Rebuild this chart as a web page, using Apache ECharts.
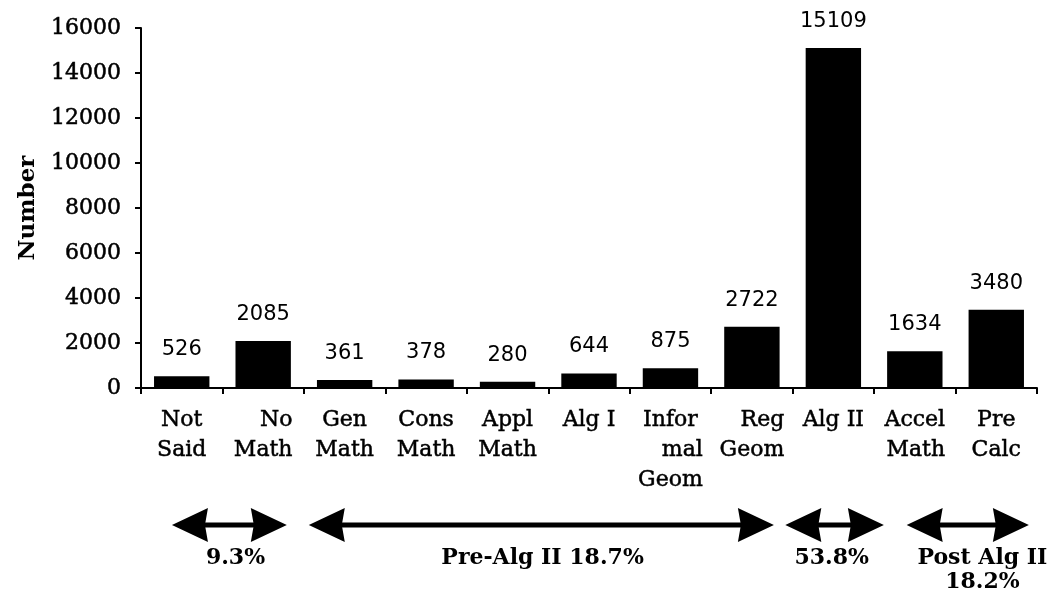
<!DOCTYPE html>
<html>
<head>
<meta charset="utf-8">
<script src="https://cdn.jsdelivr.net/npm/echarts@6/dist/echarts.min.js"></script>
<style>
html,body{margin:0;padding:0;background:#fff;}
#main{width:1058px;height:599px;}
</style>
</head>
<body>
<div id="main"></div>
<script>
//课程类别（换行和原图一样）
var categories = ['Not\nSaid','No\nMath','Gen\nMath','Cons\nMath','Appl\nMath','Alg I','Infor\nmal\nGeom','Reg\nGeom','Alg II','Accel\nMath','Pre\nCalc'];
//每类人数
var counts = [526,2085,361,378,280,644,875,2722,15109,1634,3480];
//分组文字
var groupLabels = ['9.3%','Pre-Alg II 18.7%','53.8%','Post Alg II\n18.2%'];
//分组箭头两端（类别序号）
var groupFrom = [-0.12,1.56,7.41,8.9];
var groupTo = [1.29,7.27,8.62,10.4];
//分组文字的中心（类别序号）
var groupTextAt = [0.66,4.43,7.98,9.83];
//这些类别的标签靠右对齐
var rightAligned = ['No\nMath','Reg\nGeom','Accel\nMath'];

var serif = 'DejaVu Serif';
var myChart = echarts.init(document.getElementById('main'));

function catLabel(v){
	var lines = v.split('\n');
	var tag = rightAligned.indexOf(v) >= 0 ? 'r' : 'c';
	var out = [];
	for(var i=0;i<lines.length;i++){
		//Infor mal 的第二行靠右
		var t = (v.indexOf('Infor')==0 && i==1) ? 'r' : tag;
		out.push('{'+t+'|'+lines[i]+'}');
	}
	return out.join('\n');
}

var labelFont = {fontFamily:serif,fontSize:22,color:'#000',lineHeight:30,textBorderColor:'#000',textBorderWidth:0.5};

var option = {
	animation:false,
	grid:{left:141,right:21,top:28,bottom:211},
	xAxis:{
		type:'category',
		data:categories,
		boundaryGap:true,
		axisLine:{lineStyle:{color:'#000',width:2}},
		axisTick:{show:true,length:6,lineStyle:{color:'#000',width:2}},
		axisLabel:{
			interval:0,
			margin:17,
			formatter:catLabel,
			rich:{
				c:Object.assign({align:'center'},labelFont),
				r:Object.assign({align:'right'},labelFont)
			}
		}
	},
	yAxis:{
		type:'value',
		min:0,
		max:16000,
		interval:2000,
		name:'Number',
		nameLocation:'middle',
		nameRotate:90,
		nameGap:101,
		nameTextStyle:{fontFamily:serif,fontSize:23,fontWeight:'bold',color:'#000'},
		splitLine:{show:false},
		axisLine:{show:true,lineStyle:{color:'#000',width:2}},
		axisTick:{show:true,length:6,lineStyle:{color:'#000',width:2}},
		axisLabel:{
			fontFamily:serif,fontSize:22,color:'#000',margin:20,
			textBorderColor:'#000',textBorderWidth:0.5,
			formatter:function(v){ return String(v); }
		}
	},
	series:[{
		type:'bar',
		data:counts,
		barWidth:'68%',
		itemStyle:{color:'#000'},
		label:{
			show:true,
			position:'top',
			distance:16,
			fontFamily:'DejaVu Sans',
			fontSize:21,
			color:'#000'
		}
	}]
};
myChart.setOption(option);

//画分组箭头
var p0 = myChart.convertToPixel({xAxisIndex:0},0);
var p1 = myChart.convertToPixel({xAxisIndex:0},1);
function px(i){ return p0 + i*(p1-p0); }
var ay = 525, head = 36, half = 17;
var g = [];
for(var k=0;k<groupLabels.length;k++){
	var x1 = px(groupFrom[k]), x2 = px(groupTo[k]);
	g.push({type:'line',shape:{x1:x1+head-4,y1:ay,x2:x2-head+4,y2:ay},style:{stroke:'#000',lineWidth:5}});
	g.push({type:'polygon',shape:{points:[[x1,ay],[x1+head,ay-half],[x1+head-3,ay],[x1+head,ay+half]]},style:{fill:'#000'}});
	g.push({type:'polygon',shape:{points:[[x2,ay],[x2-head,ay-half],[x2-head+3,ay],[x2-head,ay+half]]},style:{fill:'#000'}});
	g.push({type:'text',x:px(groupTextAt[k]),y:546,style:{text:groupLabels[k],font:'bold 22px "DejaVu Serif"',fill:'#000',align:'center',verticalAlign:'top',lineHeight:24}});
}
myChart.setOption({graphic:g});
</script>
</body>
</html>
